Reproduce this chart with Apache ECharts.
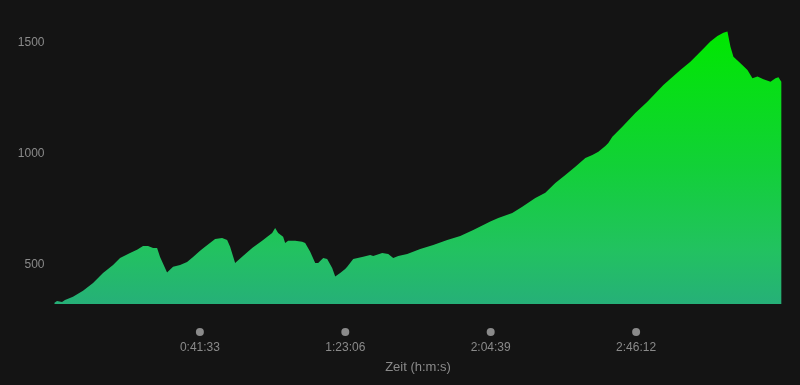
<!DOCTYPE html>
<html>
<head>
<meta charset="utf-8">
<script src="https://cdn.jsdelivr.net/npm/echarts@6/dist/echarts.min.js"></script>
<style>
  html, body { margin: 0; padding: 0; background: #141414; }
  #chart { width: 800px; height: 385px; }
</style>
</head>
<body>
<div id="chart"></div>
<script>
// time in seconds since start
const times = [
  0, 43, 129, 180, 317, 489, 661, 832, 1004, 1124, 1295, 1415, 1518, 1604, 1690, 1759,
  1810, 1930, 2033, 2153, 2273, 2376, 2496, 2582, 2754, 2874, 2960, 3011, 3097, 3217,
  3389, 3560, 3732, 3783, 3835, 3920, 3955, 4006, 4126, 4246, 4298, 4384, 4470, 4521,
  4607, 4675, 4761, 4813, 4898, 4984, 5019, 5122, 5293, 5413, 5465, 5619, 5722, 5808,
  5894, 6048, 6271, 6494, 6734, 6957, 7180, 7352, 7472, 7609, 7849, 8021, 8244, 8416,
  8587, 8759, 8930, 9102, 9222, 9325, 9445, 9496, 9565, 9736, 9959, 10165, 10440, 10731,
  10903, 11074, 11246, 11366, 11469, 11538, 11590, 11641, 11761, 11881, 11967, 12053,
  12156, 12276, 12362, 12413, 12462
]
// elevation (m)
const heights = [
  331, 338, 334, 343, 358, 385, 419, 464, 500, 532, 554, 568, 585, 585, 576, 576,
  536, 466, 492, 500, 514, 536, 564, 582, 617, 621, 612, 582, 509, 537,
  576, 609, 644, 666, 644, 627, 599, 609, 609, 605, 599, 560, 509, 509,
  532, 527, 487, 448, 464, 482, 492, 527, 537, 545, 541, 554, 550, 532,
  541, 550, 572, 590, 612, 630, 657, 680, 695, 711, 734, 762, 801, 825,
  868, 904, 941, 981, 994, 1009, 1034, 1048, 1076, 1121, 1183, 1233, 1308, 1376,
  1413, 1458, 1503, 1528, 1543, 1548, 1480, 1435, 1406, 1376, 1338, 1346,
  1334, 1323, 1338, 1343, 1323
]
const yTicks = [500, 1000, 1500]
const tickStep = 2493   // 0:41:33
const totalTime = 12465

function hms(s) {
  const h = Math.floor(s / 3600)
  const m = Math.floor((s % 3600) / 60)
  const sec = s % 60
  return h + ':' + String(m).padStart(2, '0') + ':' + String(sec).padStart(2, '0')
}

const chart = echarts.init(document.getElementById('chart'))
chart.setOption({
  backgroundColor: '#141414',
  animation: false,
  grid: { left: 54.5, right: 18.5, top: 20, bottom: 81 },
  xAxis: {
    type: 'value',
    min: 0,
    max: totalTime,
    interval: tickStep,
    name: 'Zeit (h:m:s)',
    nameLocation: 'middle',
    nameGap: 57,
    nameTextStyle: { color: '#8a8a8a', fontSize: 13, fontFamily: 'Liberation Sans' },
    axisLine: { show: false },
    axisTick: { show: false },
    splitLine: { show: false },
    axisLabel: {
      margin: 22,
      formatter: v => (v <= 0 || v >= totalTime) ? '' : '{d|}\n{t|' + hms(v) + '}',
      rich: {
        d: { width: 8, height: 8, borderRadius: 4, backgroundColor: '#8a8a8a', lineHeight: 12 },
        t: { color: '#8a8a8a', fontSize: 12, fontFamily: 'Liberation Sans', lineHeight: 20 }
      }
    }
  },
  yAxis: {
    type: 'value',
    min: 325,
    max: 1600,
    interval: 25,
    axisLine: { show: false },
    axisTick: { show: false },
    splitLine: { show: false },
    axisLabel: {
      margin: 10,
      color: '#8a8a8a',
      fontSize: 12,
      fontFamily: 'Liberation Sans',
      formatter: v => yTicks.includes(v) ? String(v) : ''
    }
  },
  series: [{
    type: 'line',
    data: times.map((t, i) => [t, heights[i]]),
    showSymbol: false,
    lineStyle: { width: 0 },
    areaStyle: {
      opacity: 1,
      color: new echarts.graphic.LinearGradient(0, 0, 0, 1, [
        { offset: 0, color: '#00e800' },
        { offset: 0.5, color: '#12d038' },
        { offset: 0.8, color: '#22c260' },
        { offset: 1, color: '#26b078' }
      ])
    }
  }]
})
</script>
</body>
</html>
